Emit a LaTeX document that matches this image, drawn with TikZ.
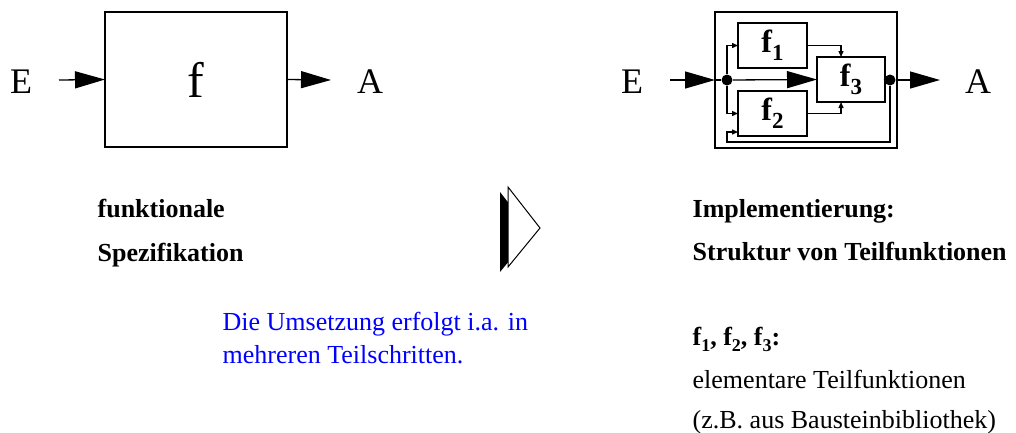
\documentclass[tikz,border=0pt]{standalone}
\usepackage{fontspec}
\setmainfont{Liberation Serif}
\usetikzlibrary{arrows.meta}
\newcommand\myfsub[3]{f\raisebox{-#3pt}{\fontsize{#2}{#2}\selectfont #1}}
\begin{document}
\begin{tikzpicture}[x=1pt,y=-1pt,line width=1.3pt,
  blk/.style={draw,inner sep=0pt,outer sep=0pt,line width=1.3pt},
  dotnode/.style={circle,fill=black,inner sep=0pt,minimum size=11pt},
  big/.style={-{Triangle[length=30pt,width=17pt]}},
  small/.style={-{Triangle[length=6pt,width=5pt]}},
  bigtxt/.style={font=\fontsize{36}{36}\selectfont,inner sep=0pt},
  flbl/.style={font=\fontsize{32}{32}\selectfont\bfseries},
  lbl/.style={anchor=base west,inner sep=0pt,font=\fontsize{26}{26}\selectfont\bfseries},
  plain/.style={anchor=base west,inner sep=0pt,font=\fontsize{26}{26}\selectfont},
  note/.style={anchor=base west,inner sep=0pt,font=\fontsize{26}{26}\selectfont,text=blue}]
\useasboundingbox (0,0) rectangle (1016,432);
% left part
\node[blk,minimum width=182pt,minimum height=135pt,font=\fontsize{50}{50}\selectfont] (fbox) at (196,79.5) {\raisebox{-3pt}{f}};
\node[bigtxt] (EL) at (21,82) {E};
\node[bigtxt] (AL) at (370,82) {A};
\coordinate (Lin) at (59,80);
\coordinate (Lout) at (331,80);
\draw[big] (Lin) -- (fbox.west);
\draw[big] (fbox.east) -- (Lout);
% right part
\node[blk,minimum width=182pt,minimum height=136pt] (outer) at (806,80) {};
\node[blk,minimum width=69pt,minimum height=45pt,flbl] (f1) at (772.5,45.5) {\raisebox{-2pt}{\myfsub{1}{23}{8}}};
\node[blk,minimum width=69pt,minimum height=45pt,flbl] (f2) at (772.5,113.5) {\raisebox{-2pt}{\myfsub{2}{23}{8}}};
\node[blk,minimum width=68pt,minimum height=45pt,flbl] (f3) at (851,79.5) {\raisebox{-2pt}{\myfsub{3}{23}{8}}};
\node[dotnode] (din) at (727,80) {};
\node[dotnode] (dout) at (890,80) {};
\node[bigtxt] (ER) at (632,82) {E};
\node[bigtxt] (AR) at (978,82) {A};
\coordinate (Rin) at (670,80);
\coordinate (Rout) at (940,80);
\coordinate (fb1) at (890,142);
\coordinate (fb2) at (727,142);
\coordinate (fb3) at (738,132);
\draw[big] (Rin) -- (outer.west);
\draw (outer.west) -- (din);
\draw[big] (din) -- (f3.west);
\draw[small] (din) |- (f1.west);
\draw[small] (din) |- (f2.west);
\draw[small] (f1.east) -| ([xshift=-10pt]f3.north);
\draw[small] (f2.east) -| ([xshift=-10pt]f3.south);
\draw (f3.east) -- (dout);
\draw[big] (dout) -- (Rout);
\draw[small] (dout) -- (fb1) -- (fb2) |- (fb3);
% chevron
\fill (500,192) -- (532,233) -- (500,272) -- cycle;
\draw[fill=white,line width=1pt] (508,187) -- (540,228) -- (508,267) -- cycle;
% texts
\node[lbl] (t1) at (97,217) {funktionale};
\node[lbl] (t2) at (97,261) {Spezifikation};
\node[lbl] (t3) at (692,217) {Implementierung:};
\node[lbl] (t4) at (692,260) {Struktur von Teilfunktionen};
\node[note] (n1) at (222,330) {Die Umsetzung erfolgt i.a. in};
\node[note] (n2) at (222,363) {mehreren Teilschritten.};
\node[lbl] (t5) at (692,345) {\myfsub{1}{18}{6}, \myfsub{2}{18}{6}, \myfsub{3}{18}{6}:};
\node[plain] (t6) at (692,388) {elementare Teilfunktionen};
\node[plain] (t7) at (692,428) {(z.B. aus Bausteinbibliothek)};
\end{tikzpicture}
\end{document}
